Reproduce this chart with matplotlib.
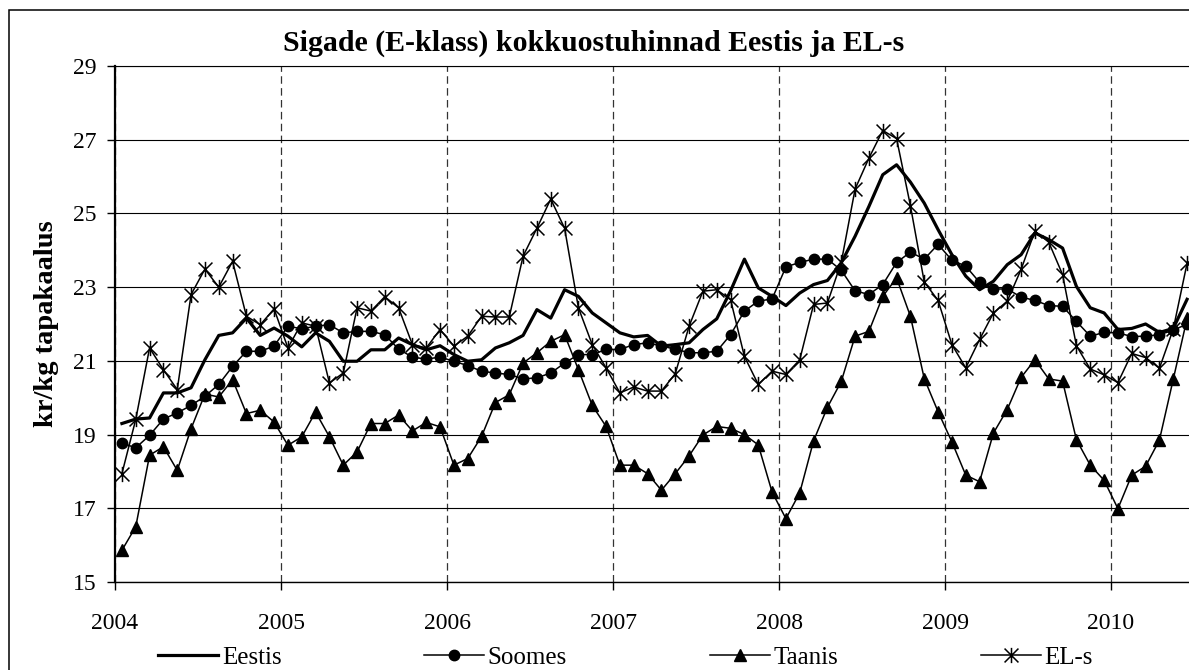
import matplotlib
matplotlib.use("Agg")
import matplotlib.pyplot as plt
import numpy as np
import pandas as pd
from matplotlib.path import Path
from matplotlib.patches import Rectangle

plt.rcParams['font.family'] = ['Liberation Serif', 'DejaVu Serif']

# monthly series, Jan 2004 - Jun 2010 (kr/kg)
months = pd.period_range('2004-01', '2010-06', freq='M')

eestis = [19.30, 19.42, 19.45, 20.13, 20.13, 20.27, 21.03, 21.69, 21.76, 22.16, 21.69, 21.89,
          21.67, 21.38, 21.76, 21.53, 20.99, 20.99, 21.30, 21.30, 21.62, 21.44, 21.30, 21.41,
          21.17, 20.99, 21.03, 21.35, 21.49, 21.69, 22.39, 22.16, 22.93, 22.75, 22.30, 22.03,
          21.76, 21.65, 21.69, 21.40, 21.44, 21.49, 21.85, 22.14, 22.90, 23.76, 22.98, 22.75,
          22.50, 22.84, 23.07, 23.18, 23.66, 24.38, 25.19, 26.05, 26.32, 25.85, 25.28, 24.56,
          23.88, 23.30, 22.93, 23.16, 23.61, 23.88, 24.47, 24.29, 24.06, 23.02, 22.44, 22.30,
          21.85, 21.88, 22.00, 21.77, 21.88, 22.67]

soomes = [18.77, 18.64, 18.98, 19.42, 19.59, 19.79, 20.04, 20.36, 20.85, 21.26, 21.26, 21.40,
          21.94, 21.87, 21.94, 21.98, 21.76, 21.80, 21.80, 21.71, 21.32, 21.10, 21.05, 21.10,
          20.99, 20.87, 20.72, 20.67, 20.63, 20.51, 20.54, 20.67, 20.94, 21.17, 21.17, 21.31,
          21.31, 21.44, 21.49, 21.40, 21.32, 21.22, 21.22, 21.26, 21.71, 22.35, 22.62, 22.68,
          23.55, 23.67, 23.76, 23.76, 23.46, 22.90, 22.80, 23.07, 23.67, 23.95, 23.76, 24.16,
          23.73, 23.57, 23.13, 22.95, 22.95, 22.73, 22.64, 22.50, 22.48, 22.07, 21.67, 21.77,
          21.76, 21.66, 21.67, 21.71, 21.83, 22.00]

taanis = [15.86, 16.50, 18.44, 18.67, 18.03, 19.16, 20.10, 20.02, 20.49, 19.57, 19.66, 19.34,
          18.71, 18.94, 19.61, 18.94, 18.17, 18.53, 19.30, 19.30, 19.53, 19.10, 19.33, 19.21,
          18.17, 18.35, 18.95, 19.87, 20.08, 20.94, 21.22, 21.53, 21.71, 20.76, 19.79, 19.22,
          18.17, 18.17, 17.94, 17.49, 17.94, 18.42, 18.99, 19.22, 19.17, 19.00, 18.72, 17.44,
          16.72, 17.42, 18.83, 19.74, 20.44, 21.67, 21.80, 22.75, 23.25, 22.21, 20.52, 19.62,
          18.80, 17.90, 17.72, 19.04, 19.68, 20.55, 21.03, 20.51, 20.45, 18.86, 18.17, 17.76,
          16.99, 17.90, 18.14, 18.85, 20.50, 22.15]

el_s = [17.94, 19.41, 21.35, 20.76, 20.22, 22.80, 23.49, 23.00, 23.70, 22.21, 21.98, 22.41,
        21.35, 22.03, 21.94, 20.40, 20.67, 22.44, 22.35, 22.74, 22.44, 21.44, 21.35, 21.85,
        21.40, 21.67, 22.21, 22.19, 22.19, 23.84, 24.60, 25.39, 24.60, 22.44, 21.44, 20.81,
        20.13, 20.29, 20.18, 20.18, 20.65, 21.94, 22.89, 22.93, 22.66, 21.12, 20.36, 20.72,
        20.63, 21.03, 22.53, 22.57, 23.67, 25.66, 26.50, 27.25, 27.03, 25.21, 23.14, 22.64,
        21.44, 20.81, 21.58, 22.30, 22.62, 23.48, 24.52, 24.22, 23.34, 21.41, 20.78, 20.62,
        20.41, 21.20, 21.09, 20.80, 21.86, 23.65]

years = list(range(2004, 2011))

# mid-month positions on a year axis
x = months.year + (months.month - 0.5) / 12

# Excel-style star marker: an X with a vertical bar
star = Path([(-1, -1), (1, 1), (-1, 1), (1, -1), (0, -1.1), (0, 1.1)],
            [Path.MOVETO, Path.LINETO, Path.MOVETO, Path.LINETO, Path.MOVETO, Path.LINETO])

fig = plt.figure(figsize=(11.89, 6.70), dpi=100)
ax = fig.add_axes([115 / 1189, 88 / 670, 1079 / 1189, 516 / 670])

ax.plot(x, eestis, color='black', lw=2.3, label='Eestis', zorder=3)
ax.plot(x, soomes, color='black', lw=1.1, marker='o', ms=7.5, label='Soomes', zorder=3)
ax.plot(x, taanis, color='black', lw=1.1, marker='^', ms=8, label='Taanis', zorder=3)
ax.plot(x, el_s, color='black', lw=1.1, marker=star, ms=11, mfc='none', mec='black',
        mew=1.1, label='EL-s', zorder=3)

ax.set_xlim(2004, 2010.5)
ax.set_ylim(15, 29)
ax.set_xticks(years)
ax.set_yticks(range(15, 30, 2))

ax.grid(axis='y', color='black', lw=0.8)
ax.grid(axis='x', color='#333333', lw=0.9, linestyle=(0, (6, 3.5)))
ax.set_axisbelow(True)

ax.spines['right'].set_visible(False)
ax.spines['left'].set_linewidth(1.6)
ax.spines['bottom'].set_linewidth(1.0)
ax.spines['top'].set_linewidth(0.8)
ax.tick_params(axis='both', direction='out', length=6, width=1, labelsize=17)
ax.tick_params(axis='x', pad=16)
ax.tick_params(axis='y', pad=7)

ax.set_ylabel('kr/kg tapakaalus', fontsize=20.5, fontweight='bold', labelpad=10)

fig.text(594 / 1189, (670 - 51) / 670, 'Sigade (E-klass) kokkuostuhinnad Eestis ja EL-s',
         ha='center', va='baseline', fontsize=21.5, fontweight='bold')

fig.legend(loc='center', bbox_to_anchor=(0.526, 0.018), ncol=4, frameon=False,
           fontsize=18, handlelength=2.4, handletextpad=0.15, columnspacing=5.7,
           numpoints=1)

# outer chart frame (cropped at right and bottom)
fig.add_artist(Rectangle((9 / 1189, -0.1), 1.2, (670 - 10) / 670 + 0.1,
                         transform=fig.transFigure, fill=False, lw=1.1,
                         edgecolor='black', clip_on=False))

fig.savefig('out.png', dpi=100)
